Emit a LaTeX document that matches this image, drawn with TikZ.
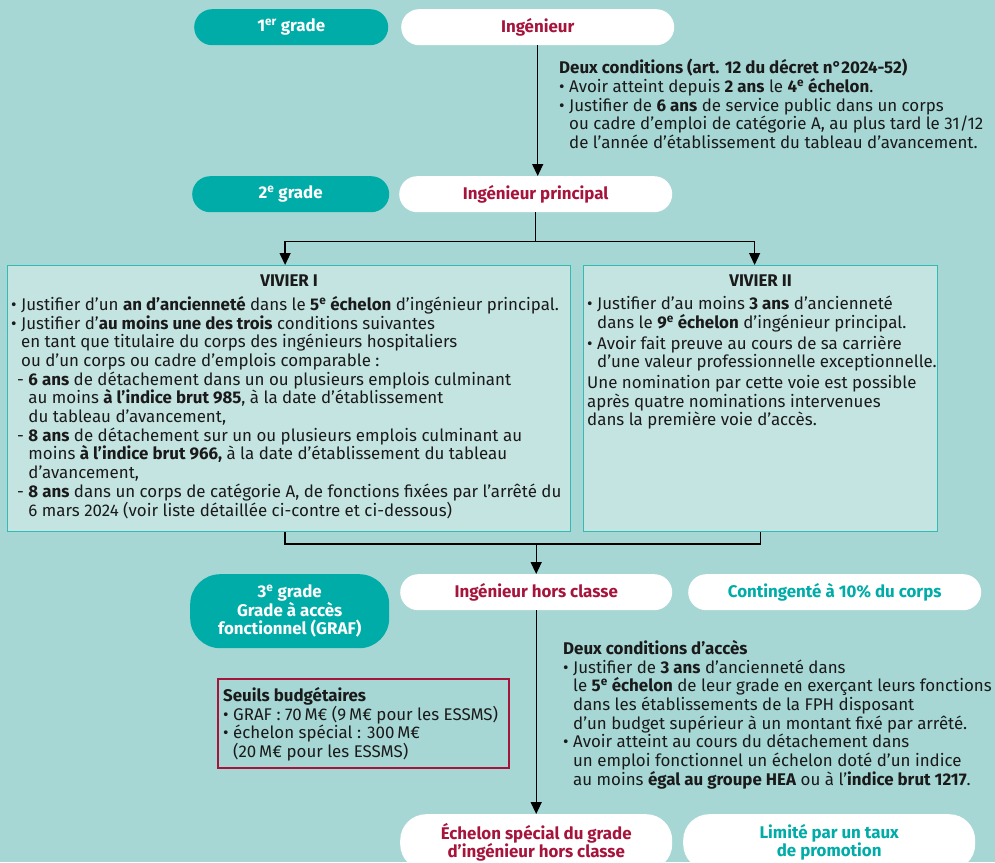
\documentclass[tikz,border=0pt]{standalone}
\usepackage{fontspec}
\setmainfont{Fira Sans}
\usetikzlibrary{arrows.meta}

\definecolor{bgteal}{RGB}{166,215,212}
\definecolor{darkteal}{RGB}{0,172,168}
\definecolor{boxfill}{RGB}{196,228,226}
\definecolor{boxline}{RGB}{52,186,181}
\definecolor{crimson}{RGB}{166,20,60}
\definecolor{ink}{RGB}{26,26,26}

\newcommand{\bodyfont}{\fontsize{16.9}{18.7}\selectfont}
\newcommand{\bl}{•\ }
\newcommand{\ind}{\phantom{•\ }}
\newcommand{\dl}{\hspace*{6pt}-\ }
\newcommand{\dind}{\hspace*{6pt}\phantom{-\ }}
\newcommand{\ex}[1]{\textsuperscript{#1}}

\tikzset{
	gradepill/.style={fill=darkteal, text=white, font=\bodyfont\bfseries, rounded corners=18pt, minimum height=36pt, inner sep=0pt, align=center, anchor=north west},
	namepill/.style={fill=white, text=crimson, font=\bodyfont\bfseries, rounded corners=18pt, minimum height=36pt, inner sep=0pt, align=center, anchor=north west},
	notepill/.style={namepill, text=darkteal},
	vivbox/.style={draw=boxline, fill=boxfill, line width=1.2pt, minimum width=#1, inner sep=0pt, anchor=north west},
	bodytext/.style={text=ink, font=\bodyfont, align=left, inner sep=0pt, anchor=north west},
	arrow/.style={line width=1.3pt, -{Triangle[length=12pt,width=11pt]}},
	joint/.style={line width=1.3pt}
}

\begin{document}
\begin{tikzpicture}[x=1pt, y=-1pt]
	\useasboundingbox (0,0) rectangle (995,862);
	\clip (0,0) rectangle (995,862);
	\fill[bgteal] (0,0) rectangle (995,862);

	% grades
	\node[gradepill, minimum width=194pt] (g1) at (194,9) {1\ex{er} grade};
	\node[namepill, minimum width=273pt] (ing) at (401,9) {Ingénieur};
	\node[gradepill, minimum width=197pt] (g2) at (192,176) {2\ex{e} grade};
	\node[namepill, minimum width=273pt] (ingp) at (399,176) {Ingénieur principal};
	\node[gradepill, minimum width=199pt, minimum height=74pt, rounded corners=30pt] (g3) at (190,574) {3\ex{e} grade\\Grade à accès\\fonctionnel (GRAF)};
	\node[namepill, minimum width=272pt] (ingh) at (400,574) {Ingénieur hors classe};
	\node[notepill, minimum width=293pt] (cont) at (688,574) {Contingenté à 10\% du corps};
	\node[namepill, minimum width=272pt, minimum height=56pt, rounded corners=26pt] (ech) at (400,814) {Échelon spécial du grade\\d’ingénieur hors classe};
	\node[notepill, minimum width=292pt, minimum height=56pt, rounded corners=26pt] (taux) at (683,814) {Limité par un taux\\de promotion};

	% conditions
	\node[bodytext] (cond1) at (559,59) {\textbf{Deux conditions (art. 12 du décret n°2024-52)}\\
		\bl Avoir atteint depuis \textbf{2 ans} le \textbf{4\ex{e} échelon}.\\
		\bl Justifier de \textbf{6 ans} de service public dans un corps\\
		\ind ou cadre d’emploi de catégorie A, au plus tard le 31/12\\
		\ind de l’année d’établissement du tableau d’avancement.};

	% viviers
	\node[vivbox=563pt, minimum height=266pt] (viv1) at (7,265) {};
	\node[vivbox=354pt, minimum height=266pt] (viv2) at (583,265) {};
	\node[text=ink, font=\bodyfont\bfseries, inner sep=0pt, anchor=north] (t1) at ([yshift=-10pt]viv1.north) {VIVIER I};
	\node[text=ink, font=\bodyfont\bfseries, inner sep=0pt, anchor=north] (t2) at ([yshift=-10pt]viv2.north) {VIVIER II};
	\node[bodytext] (v1) at (11,296) {\bl Justifier d’un \textbf{an d’ancienneté} dans le \textbf{5\ex{e} échelon} d’ingénieur principal.\\
		\bl Justifier d’\textbf{au moins une des trois} conditions suivantes\\
		\ind en tant que titulaire du corps des ingénieurs hospitaliers\\
		\ind ou d’un corps ou cadre d’emplois comparable :\\
		\dl\textbf{6 ans} de détachement dans un ou plusieurs emplois culminant\\
		\dind au moins \textbf{à l’indice brut 985}, à la date d’établissement\\
		\dind du tableau d’avancement,\\
		\dl\textbf{8 ans} de détachement sur un ou plusieurs emplois culminant au\\
		\dind moins \textbf{à l’indice brut 966,} à la date d’établissement du tableau\\
		\dind d’avancement,\\
		\dl\textbf{8 ans} dans un corps de catégorie A, de fonctions fixées par l'arrêté du\\
		\dind 6 mars 2024 (voir liste détaillée ci-contre et ci-dessous)};
	\node[bodytext] (v2) at (587,296) {\bl Justifier d’au moins \textbf{3 ans} d’ancienneté\\
		\ind dans le \textbf{9\ex{e} échelon} d’ingénieur principal.\\[2pt]
		\bl Avoir fait preuve au cours de sa carrière\\
		\ind d’une valeur professionnelle exceptionnelle.\\[2pt]
		Une nomination par cette voie est possible\\
		après quatre nominations intervenues\\
		dans la première voie d’accès.};

	% seuils
	\node[draw=crimson, line width=1.5pt, minimum width=291pt, minimum height=89pt, inner sep=0pt, anchor=north west] (seuil) at (217,678) {};
	\node[bodytext] (s1) at (223,687) {\textbf{Seuils budgétaires}\\
		\bl GRAF : 70\,M€ (9\,M€ pour les ESSMS)\\
		\bl échelon spécial : 300\,M€\\
		\ind (20\,M€ pour les ESSMS)};

	\node[bodytext] (cond2) at (563,640) {\textbf{Deux conditions d’accès}\\
		\bl Justifier de \textbf{3 ans} d’ancienneté dans\\
		\ind le \textbf{5\ex{e} échelon} de leur grade en exerçant leurs fonctions\\
		\ind dans les établissements de la FPH disposant\\
		\ind d’un budget supérieur à un montant fixé par arrêté.\\
		\bl Avoir atteint au cours du détachement dans\\
		\ind un emploi fonctionnel un échelon doté d’un indice\\
		\ind au moins \textbf{égal au groupe HEA} ou à l’\textbf{indice brut 1217}.};

	% connectors
	\draw[arrow] (ing.south) -- (ing.south |- ingp.north);
	\draw[joint] (ingp.south) -- ++(0,29) coordinate (split);
	\draw[arrow] (split) -| ([xshift=-4pt]viv1.north);
	\draw[arrow] (split) -| ([xshift=-6pt]viv2.north);
	\draw[joint] ([xshift=-4pt]viv1.south) |- (ingh.north |- 0,544) coordinate (merge) -| (viv2.south);
	\draw[arrow] (merge) -- (ingh.north);
	\draw[arrow] (ingh.south) -- (ech.north);
\end{tikzpicture}
\end{document}
